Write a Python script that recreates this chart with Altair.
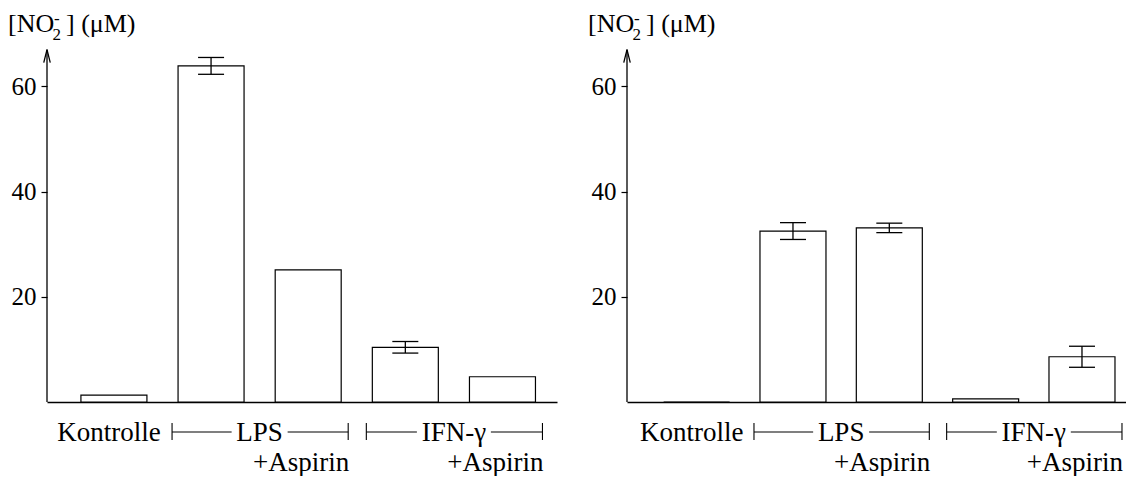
import altair as alt
import pandas as pd

# ---- data ----
categories = ["Kontrolle", "LPS", "LPS+Aspirin", "IFN-γ", "IFN-γ+Aspirin"]
x_index = [0, 1, 2, 3, 4]
left_values = [1.3, 63.9, 25.1, 10.4, 4.8]
left_errors = [0.0, 1.6, 0.0, 1.1, 0.0]
right_values = [0.0, 32.5, 33.1, 0.6, 8.6]
right_errors = [0.0, 1.6, 0.9, 0.0, 2.0]
y_ticks = [20, 40, 60]
group_names = ["LPS", "IFN-γ"]
group_first = [1, 3]
group_last = [2, 4]
group_halfgap = [28, 37]   # px half-width of the gap in the bracket line around the name

# ---- styling / layout constants ----
FONT = "Liberation Serif"
PLOT_H = 394
PX_PER_UNIT = 5.26
YMAX = PLOT_H / PX_PER_UNIT
AXIS_TOP = 67
BAR_W = 66
CAP_HALF = 13
INK = "black"
LABEL_SIZE = 27


def text_layer(txt, x, y, size=LABEL_SIZE, align="center", dx=0):
    one = alt.Chart(pd.DataFrame({"a": [0]}))
    enc = dict(y=alt.value(y), text=alt.value(txt))
    if isinstance(x, tuple):
        enc["x"] = alt.value(x[1])
    else:
        enc["x"] = alt.datum(x)
    return one.mark_text(font=FONT, fontSize=size, color=INK, align=align,
                         baseline="alphabetic", dx=dx).encode(**enc)


def panel(values, errors, xdomain, width):
    df = pd.DataFrame({"idx": x_index, "category": categories,
                       "value": values, "err": errors})
    df["lo"] = df["value"] - df["err"]
    df["hi"] = df["value"] + df["err"]
    xs = alt.Scale(domain=xdomain, nice=False, zero=False)
    ys = alt.Scale(domain=[0, YMAX], nice=False, zero=True)
    base = alt.Chart(df)
    one = alt.Chart(pd.DataFrame({"a": [0]}))

    bars = base.mark_bar(size=BAR_W, fill="white", stroke=INK, strokeWidth=1.2).encode(
        x=alt.X("idx:Q", scale=xs, title=None,
                axis=alt.Axis(domain=True, domainColor=INK, domainWidth=1.6,
                              ticks=False, labels=False, grid=False, title=None)),
        y=alt.Y("value:Q", scale=ys, title=None,
                axis=alt.Axis(values=y_ticks, domain=False, grid=False, ticks=True,
                              tickSize=6, tickColor=INK, tickWidth=1.2,
                              labelFont=FONT, labelFontSize=25, labelColor=INK,
                              labelPadding=5, title=None)),
    )
    eb = base.transform_filter("datum.err > 0")
    stems = eb.mark_rule(color=INK, strokeWidth=1.3).encode(
        x=alt.X("idx:Q", title=None), y=alt.Y("lo:Q", title=None), y2="hi:Q")
    cap_lo = eb.mark_rule(color=INK, strokeWidth=1.3, xOffset=-CAP_HALF, x2Offset=CAP_HALF).encode(
        x=alt.X("idx:Q", title=None), x2="idx:Q", y=alt.Y("lo:Q", title=None))
    cap_hi = eb.mark_rule(color=INK, strokeWidth=1.3, xOffset=-CAP_HALF, x2Offset=CAP_HALF).encode(
        x=alt.X("idx:Q", title=None), x2="idx:Q", y=alt.Y("hi:Q", title=None))

    yline = one.mark_rule(color=INK, strokeWidth=1.3).encode(
        x=alt.value(0), y=alt.datum(0), y2=alt.datum(AXIS_TOP))
    arrow = one.mark_point(shape="M-0.25,1L0,0L0.25,1", size=676, filled=False,
                           color=INK, strokeWidth=1.3, opacity=1).encode(
        x=alt.value(0), y=alt.datum(AXIS_TOP))

    layers = [bars, stems, cap_lo, cap_hi, yline, arrow]

    # y title: [NO2-] (µM)
    layers.append(text_layer("[NO", ("px", -39), 24, size=26, align="left"))
    layers.append(text_layer("2", ("px", 5.5), 32, size=17, align="left"))
    layers.append(text_layer("-", ("px", 7), 15.5, size=17, align="left"))
    layers.append(text_layer("] (μM)", ("px", 19), 24, size=26, align="left"))

    # category labels under the axis
    LBL_Y = PLOT_H + 39
    LINE_Y = PLOT_H + 30
    layers.append(text_layer(categories[0], x_index[0], LBL_Y, dx=-5))
    for name, f, l, hg in zip(group_names, group_first, group_last, group_halfgap):
        mid = (f + l) / 2
        layers.append(text_layer(name, mid, LBL_Y))
        layers.append(one.mark_rule(color=INK, strokeWidth=1.1, xOffset=-39, x2Offset=-hg).encode(
            x=alt.datum(f), x2=alt.datum(mid), y=alt.value(LINE_Y)))
        layers.append(one.mark_rule(color=INK, strokeWidth=1.1, xOffset=hg, x2Offset=40).encode(
            x=alt.datum(mid), x2=alt.datum(l), y=alt.value(LINE_Y)))
        layers.append(one.mark_rule(color=INK, strokeWidth=1.1, xOffset=-39).encode(
            x=alt.datum(f), y=alt.value(LINE_Y - 9), y2=alt.value(LINE_Y + 8)))
        layers.append(one.mark_rule(color=INK, strokeWidth=1.1, xOffset=40).encode(
            x=alt.datum(l), y=alt.value(LINE_Y - 9), y2=alt.value(LINE_Y + 8)))
        layers.append(text_layer("+Aspirin", l, PLOT_H + 69, align="right", dx=41))

    return alt.layer(*layers).properties(width=width, height=PLOT_H)


left = panel(left_values, left_errors, [-0.6375, 4.51], 510)
right = panel(right_values, right_errors, [-0.671, 4.405], 499)

chart = alt.hconcat(left, right, spacing=31).properties(
    padding=0, background="white"
).configure_view(stroke=None)

chart.save("out.html", embed_options={"renderer": "svg", "actions": False})
